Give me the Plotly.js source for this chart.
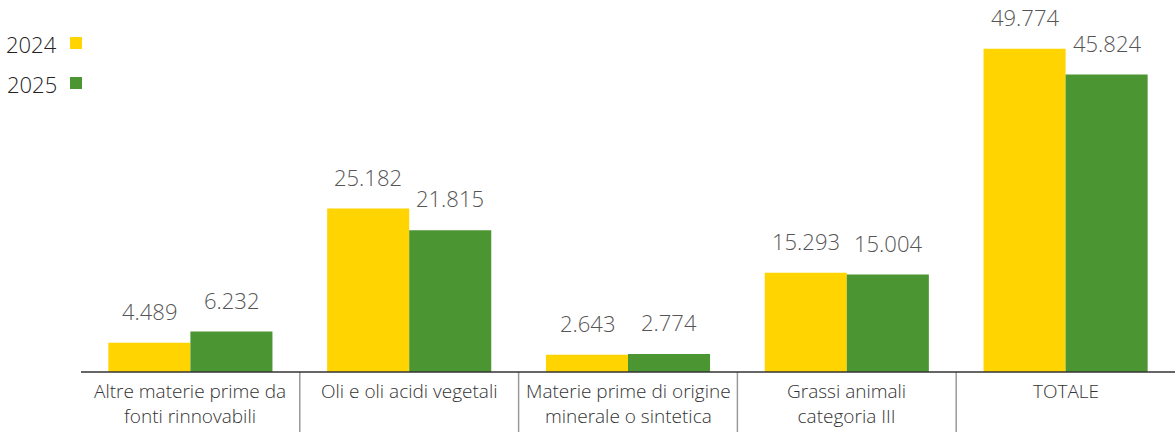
<!DOCTYPE html>
<html><head><meta charset="utf-8">
<script src="https://cdn.plot.ly/plotly-3.0.1.min.js"></script>
<style>html,body{margin:0;padding:0;background:#fff}#chart{width:1175px;height:432px}</style>
</head><body><div id="chart"></div>
<script>
const categories = ["Altre materie prime da<br>fonti rinnovabili","Oli e oli acidi vegetali","Materie prime di origine<br>minerale o sintetica","Grassi animali<br>categoria III","TOTALE"];
const series2024 = [4.489, 25.182, 2.643, 15.293, 49.774];
const series2025 = [6.232, 21.815, 2.774, 15.004, 45.824];
const seriesNames = ["2024","2025"];
const seriesColors = ["#FFD400","#4C9533"];

const xs = categories.map((c,i)=>i);
const fmt = v => v.toFixed(3);
const traces = [series2024, series2025].map((vals,k)=>({
  type:'bar', x: xs, y: vals, name: seriesNames[k],
  marker:{color: seriesColors[k], line:{width:0}},
  hoverinfo:'skip', showlegend:false
}));

const PW = 1094, PH = 372, L = 81;
const annotations = [];
[series2024, series2025].forEach((vals,k)=>{
  vals.forEach((v,i)=>{
    annotations.push({x:i, y:v, xref:'x', yref:'y', text: fmt(v), showarrow:false,
      xshift: k===0 ? -41 : 41, yanchor:'bottom', yshift:15,
      font:{family:'Open Sans, sans-serif', size:22, color:'#555', weight:300}});
  });
});
categories.forEach((c,i)=>{
  annotations.push({x:i, y:0, xref:'x', yref:'paper', text:c, showarrow:false,
    yanchor:'top', yshift:-4, align:'center',
    font:{family:'Open Sans, sans-serif', size:19, color:'#333', weight:300}});
});
seriesNames.forEach((n,k)=>{
  annotations.push({xref:'paper', yref:'paper', x:(59-L)/PW, y: 1-(44+40*k)/PH, text:n, showarrow:false,
    xanchor:'right', yanchor:'middle',
    font:{family:'Open Sans, sans-serif', size:22, color:'#222', weight:300}});
});
const shapes = [];
seriesNames.forEach((n,k)=>{
  const yc = 1-(43+40*k)/PH;
  shapes.push({type:'rect', xref:'paper', yref:'paper',
    x0:(70-L)/PW, x1:(82-L)/PW, y0: yc-6/PH, y1: yc+6/PH,
    fillcolor: seriesColors[k], line:{width:0}});
});
for (let i=0;i<categories.length-1;i++){
  shapes.push({type:'line', xref:'x', yref:'paper', x0:i+0.5, x1:i+0.5, y0:0, y1:-60/PH,
    line:{color:'#999', width:1.5}});
}
shapes.push({type:'line', xref:'paper', yref:'paper', x0:0, x1:1, y0:0, y1:0, line:{color:'#333', width:1.5}});

Plotly.newPlot('chart', traces, {
  width:1175, height:432,
  margin:{l:L, r:0, t:0, b:60},
  barmode:'group', bargap:0.25, bargroupgap:0,
  paper_bgcolor:'#fff', plot_bgcolor:'#fff',
  xaxis:{range:[-0.5,4.5], showticklabels:false, showline:false, showgrid:false, zeroline:false, ticks:''},
  yaxis:{range:[0,57.3], visible:false, showgrid:false, zeroline:false},
  annotations: annotations,
  shapes: shapes
}, {displayModeBar:false, staticPlot:true});
</script></body></html>
